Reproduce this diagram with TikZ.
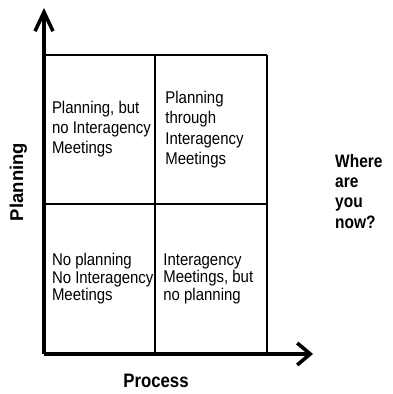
\documentclass[tikz,border=0pt]{standalone}
\usepackage{fontspec}
\setmainfont{Liberation Sans}
\newfontfamily\cellfont[FakeStretch=0.88]{Liberation Sans}
\newfontfamily\askfont[FakeStretch=0.86]{Liberation Sans}
\usetikzlibrary{arrows.meta, positioning}

\begin{document}
\begin{tikzpicture}[x=1pt, y=1pt,
        cell/.style={minimum width=110pt, minimum height=149pt, inner sep=0pt},
        celltext/.style={inner sep=0pt, align=left},
        axis/.style={line width=3.6pt},
        grid/.style={line width=2.2pt}]
        \useasboundingbox (0,0) rectangle (392,394);

        % the four cells
        \node[cell] (TL) at (100, 264.5) {};
        \node[cell, minimum width=111pt, right=0pt of TL] (TR) {};
        \node[cell, below=0pt of TL] (BL) {};
        \node[cell, minimum width=111pt, right=0pt of BL] (BR) {};

        \node[celltext, font=\cellfont\fontsize{17}{20}\selectfont, right=7pt of TL.west] (Ta) {Planning, but\\no Interagency\\Meetings};
        \node[celltext, font=\cellfont\fontsize{17}{20.5}\selectfont, right=10pt of TR.west] (Tb) {Planning\\through\\Interagency\\Meetings};
        \node[celltext, font=\cellfont\fontsize{17}{17.5}\selectfont, right=7pt of BL.west] (Tc) {No planning\\No Interagency\\Meetings};
        \node[celltext, font=\cellfont\fontsize{17}{17.5}\selectfont, right=8pt of BR.west] (Td) {Interagency\\Meetings, but\\no planning};

        \draw [grid] (TL.north west) -- (TR.north east);
        \draw [grid] (TR.north east) -- (BR.south east);
        \draw [grid] (TL.south west) -- (TR.south east);
        \draw [line width=1.6pt] (TL.north east) -- (BL.south east);

        % axes
        \coordinate (O) at (44, 40);
        \coordinate (Ytop) at (44, 386);
        \coordinate (Xend) at (313, 40);
        \draw [axis, -{Straight Barb[length=19pt, width=18pt]}] (O) -- (Ytop);
        \draw [axis, -{Straight Barb[length=13pt, width=22pt]}] (O) -- (Xend);

        \node[rotate=90, inner sep=0pt, font=\bfseries\fontsize{18.5}{20}\selectfont] (Plan) at (18.3, 212) {Planning};
        \node[anchor=base, inner sep=0pt, font=\askfont\bfseries\fontsize{19.5}{20}\selectfont] (Proc) at (156, 6) {Process};
        \node[anchor=north west, inner sep=0pt, align=left, font=\askfont\bfseries\fontsize{18}{20.3}\selectfont] (Ask) at (335, 240) {Where\\are\\you\\now?};

    \end{tikzpicture}
\end{document}
